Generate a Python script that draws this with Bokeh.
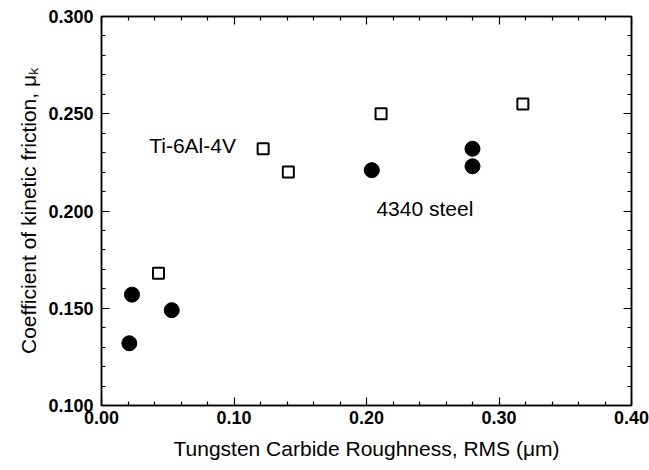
from bokeh.plotting import figure
from bokeh.models import LinearAxis, FixedTicker, PrintfTickFormatter, Range1d
from bokeh.core.properties import value
from bokeh.embed import file_html
from bokeh.resources import INLINE

# 4340 steel (filled circles)
steel_x = [0.021, 0.023, 0.053, 0.204, 0.280, 0.280]
steel_y = [0.132, 0.157, 0.149, 0.221, 0.232, 0.223]

# Ti-6Al-4V (open squares)
ti_x = [0.043, 0.122, 0.141, 0.211, 0.318]
ti_y = [0.168, 0.232, 0.220, 0.250, 0.255]

x_ticks = [0.0, 0.1, 0.2, 0.3, 0.4]
x_minor = [0.02, 0.04, 0.06, 0.08, 0.12, 0.14, 0.16, 0.18, 0.22, 0.24, 0.26, 0.28, 0.32, 0.34, 0.36, 0.38]
y_ticks = [0.10, 0.15, 0.20, 0.25, 0.30]
y_minor = [0.11, 0.12, 0.13, 0.14, 0.16, 0.17, 0.18, 0.19, 0.21, 0.22, 0.23, 0.24, 0.26, 0.27, 0.28, 0.29]

labels_text = ["Ti-6Al-4V", "4340 steel"]
labels_x = [0.036, 0.2075]
labels_y = [0.2337, 0.2014]

FONT = "Liberation Sans"

p = figure(width=649, height=470, output_backend="svg", toolbar_location=None,
           x_range=Range1d(0.0, 0.4), y_range=Range1d(0.1, 0.3),
           min_border_left=101, min_border_right=18, min_border_top=16, min_border_bottom=65)
p.xgrid.visible = False
p.ygrid.visible = False
p.outline_line_color = "black"
p.outline_line_width = 1.5
p.background_fill_color = "white"
p.border_fill_color = "white"

def style_axis(ax, ticks, minor, fmt, show_labels):
    ax.ticker = FixedTicker(ticks=ticks, minor_ticks=minor)
    ax.formatter = PrintfTickFormatter(format=fmt)
    ax.axis_line_color = "black"
    ax.axis_line_width = 1.5
    ax.major_tick_in = 8
    ax.major_tick_out = 0
    ax.minor_tick_in = 4
    ax.minor_tick_out = 0
    ax.major_tick_line_width = 1.2
    ax.minor_tick_line_width = 1.2
    ax.major_tick_line_color = "black"
    ax.minor_tick_line_color = "black"
    if show_labels:
        ax.major_label_text_font = FONT
        ax.major_label_text_font_size = "18px"
        ax.major_label_text_font_style = "bold"
        ax.major_label_text_color = "black"
        ax.axis_label_text_font = FONT
        ax.axis_label_text_font_size = "21px"
        ax.axis_label_text_font_style = "normal"
        ax.axis_label_text_color = "black"
    else:
        ax.major_label_overrides = {t: "" for t in ticks}
        ax.major_label_standoff = 0
        ax.axis_label = None

xa = p.xaxis[0]
style_axis(xa, x_ticks, x_minor, "%.2f", True)
xa.axis_label = "Tungsten Carbide Roughness, RMS (\u03bcm)"
xa.major_label_standoff = 5
xa.axis_label_standoff = 10

ya = p.yaxis[0]
style_axis(ya, y_ticks, y_minor, "%.3f", True)
ya.axis_label = "Coefficient of kinetic friction, \u03bc\u2096"
ya.major_label_standoff = 8
ya.axis_label_standoff = 5

ra = LinearAxis()
style_axis(ra, y_ticks, y_minor, "%.3f", False)
p.add_layout(ra, "right")
ta = LinearAxis()
style_axis(ta, x_ticks, x_minor, "%.2f", False)
p.add_layout(ta, "above")

p.scatter(steel_x, steel_y, marker="circle", size=15, fill_color="black", line_color="black")
p.scatter(ti_x, ti_y, marker="square", size=11, fill_color="white", line_color="black", line_width=2)

p.text(x=labels_x, y=labels_y, text=labels_text, text_font=value(FONT), text_font_size="21px",
       text_color="black", text_baseline="alphabetic", text_align="left")

open("out.html", "w").write(file_html(p, INLINE))
